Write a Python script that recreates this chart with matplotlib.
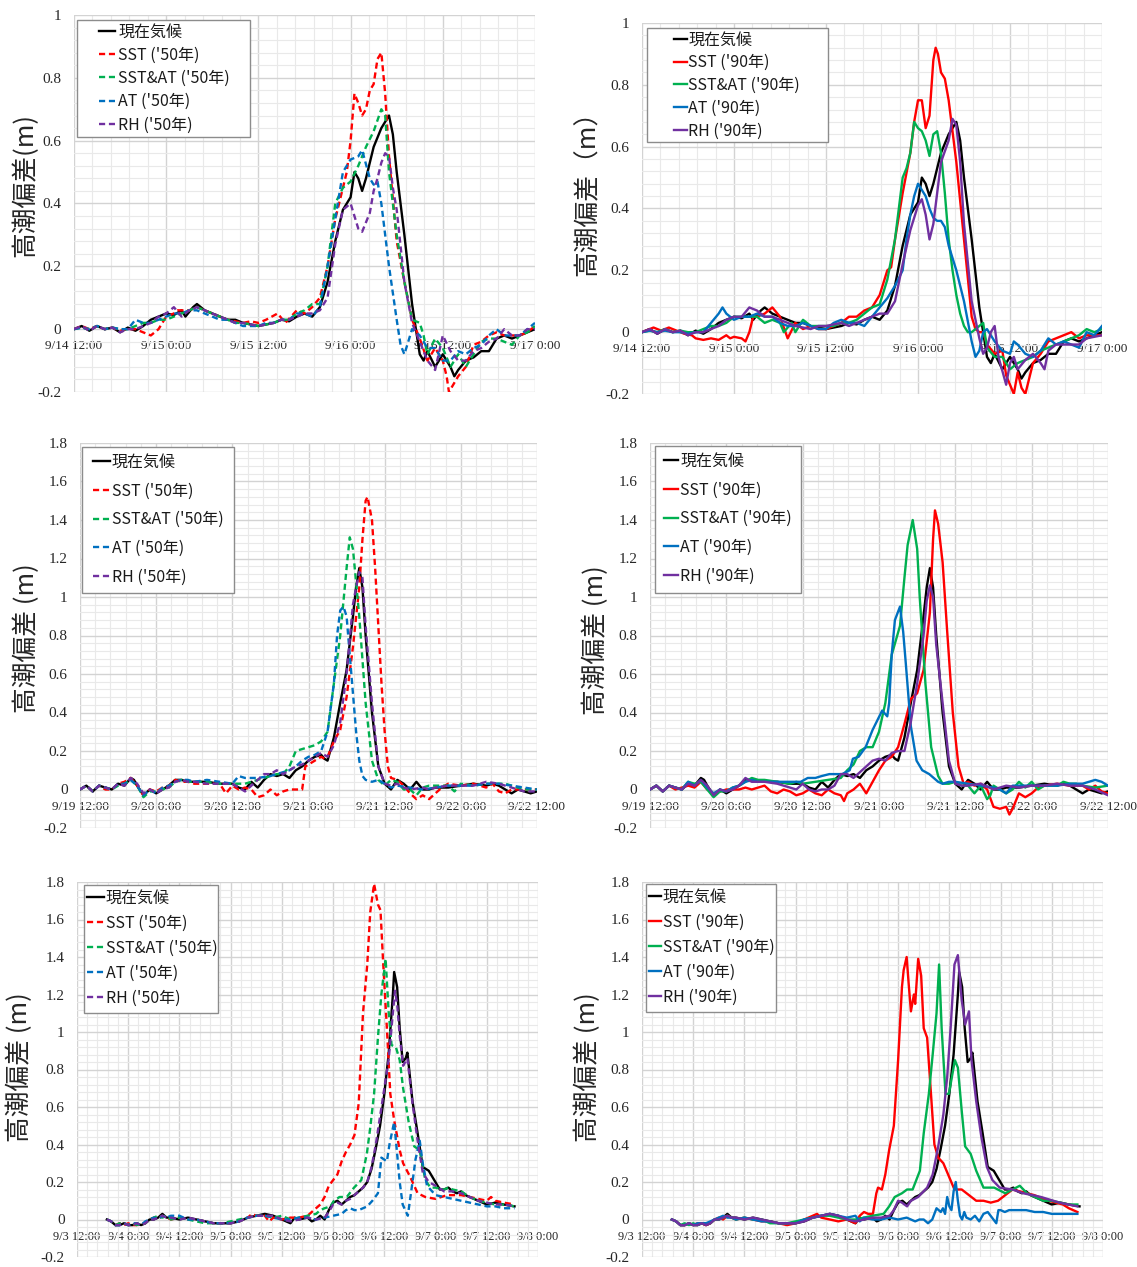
import matplotlib
matplotlib.use('Agg')
import matplotlib.pyplot as plt
from matplotlib.patches import Rectangle
from matplotlib.ticker import MultipleLocator, FixedLocator, FuncFormatter

# ---------------- DATA (hours since start of each panel's x-axis, surge in m) ----------------
# Storm A : x-axis 9/14 12:00 -> 9/17 0:00
A_TICKS = ['9/14 12:00', '9/15 0:00', '9/15 12:00', '9/16 0:00', '9/16 12:00', '9/17 0:00']
A_NOW = [(0,0.0),(1,0.01),(2,-0.005),(3,0.01),(4,0.0),(5,0.005),(6,-0.01),(7,0.005),(8,-0.005),(9,0.01),
         (10,0.03),(11,0.04),(12,0.05),(13,0.045),(14,0.06),(14.5,0.04),(15.5,0.07),(16,0.08),(17,0.06),(18,0.05),
         (19,0.04),(20,0.03),(21,0.03),(22,0.02),(23,0.015),(24,0.01),(25,0.015),(26,0.02),(27,0.03),(28,0.025),
         (29,0.04),(30,0.05),(31,0.04),(32,0.07),(33,0.15),(34,0.28),(35,0.38),(36,0.42),(36.5,0.5),(37,0.48),
         (37.5,0.44),(38,0.48),(39,0.58),(40,0.64),(40.5,0.66),(41,0.68),(41.5,0.62),(42,0.5),(43,0.3),(44,0.08),
         (44.5,0.0),(45,-0.08),(45.5,-0.1),(46,-0.07),(47,-0.12),(48,-0.08),(49,-0.12),(49.5,-0.15),(50,-0.13),
         (51,-0.1),(52,-0.09),(53,-0.07),(54,-0.07),(55,-0.03),(56,-0.02),(57,-0.03),(58,-0.02),(59,-0.01),(60,0.0)]
A50_SST = [(0,0.0),(1,0.01),(2,0.0),(3,0.01),(4,0.0),(5,0.005),(6,-0.005),(7,0.0),(8,0.0),(9,-0.01),(10,-0.02),
           (11,0.0),(12,0.04),(13,0.05),(13.5,0.06),(14.5,0.06),(15,0.06),(16,0.07),(17,0.06),(18,0.05),(19,0.04),
           (20,0.03),(21,0.025),(22,0.02),(23,0.025),(24,0.02),(25,0.03),(26.5,0.05),(27.5,0.02),(29,0.06),(30,0.05),
           (31,0.07),(32,0.1),(33,0.2),(34,0.35),(35,0.45),(35.5,0.5),(36,0.6),(36.5,0.75),(37,0.72),(37.5,0.68),
           (38,0.7),(38.5,0.76),(39,0.78),(39.5,0.86),(40,0.88),(40.5,0.75),(41,0.55),(42,0.28),(43,0.15),(44,0.03),
           (45,-0.03),(46,-0.1),(47,-0.06),(48,-0.1),(48.5,-0.15),(48.8,-0.2),(50,-0.15),(51,-0.12),(52,-0.05),
           (53,-0.04),(54,-0.02),(55,-0.01),(56,-0.02),(57,-0.02),(58,-0.02),(59,-0.01),(60,0.01)]
A50_SSTAT = [(0,0.0),(1,0.005),(2,0.0),(3,0.01),(4,0.0),(5,0.005),(6,0.0),(7,0.0),(8,0.01),(9,0.02),(10,0.02),
             (11,0.03),(12,0.03),(13,0.04),(14,0.05),(15,0.06),(16,0.07),(17,0.06),(18,0.05),(19,0.04),(20,0.03),
             (21,0.02),(22,0.02),(23,0.015),(24,0.01),(25,0.015),(26,0.02),(27,0.03),(28,0.03),(29,0.05),(30,0.06),
             (31,0.08),(32,0.08),(33,0.2),(34,0.4),(35,0.45),(36,0.47),(37,0.52),(38,0.58),(39,0.63),(40,0.7),
             (40.5,0.68),(41,0.5),(42,0.3),(43,0.15),(44,0.03),(45,0.02),(45.5,-0.02),(46,-0.08),(47,-0.03),(48,-0.06),
             (49,-0.12),(50,-0.08),(51,-0.12),(52,-0.08),(53,-0.04),(54,-0.03),(55,-0.03),(56,-0.04),(57,-0.05),
             (58,-0.02),(59,-0.01),(60,0.01)]
A50_AT = [(0,0.0),(1,0.005),(2,0.0),(3,0.01),(4,0.0),(5,0.005),(6,0.0),(7,0.0),(8,0.03),(9,0.02),(10,0.02),
          (11,0.03),(12,0.04),(13,0.05),(14,0.05),(15,0.06),(16,0.06),(17,0.05),(18,0.04),(19,0.03),(20,0.03),
          (21,0.02),(22,0.01),(23,0.01),(24,0.01),(25,0.02),(26,0.02),(27,0.03),(28,0.03),(29,0.05),(30,0.05),
          (31,0.04),(32,0.07),(33,0.2),(34,0.35),(35,0.5),(36,0.54),(37,0.55),(37.5,0.57),(38.5,0.48),(39,0.46),
          (39.5,0.47),(40,0.4),(41,0.2),(42,0.03),(42.5,-0.05),(43,-0.08),(43.5,-0.04),(44,0.0),(45,-0.02),
          (46,-0.06),(47,-0.06),(48,-0.1),(49,-0.1),(50,-0.07),(51,-0.08),(52,-0.06),(53,-0.05),(54,-0.02),
          (55,0.0),(56,-0.02),(57,-0.02),(58,-0.02),(59,0.0),(60,0.02)]
A50_RH = [(0,0.0),(1,0.01),(2,-0.005),(3,0.01),(4,0.0),(5,0.005),(6,-0.01),(7,0.0),(8,0.0),(9,0.01),(10,0.02),
          (11,0.04),(12,0.05),(13,0.07),(14,0.04),(15,0.06),(16,0.07),(17,0.06),(18,0.05),(19,0.04),(20,0.03),
          (21,0.02),(22,0.02),(23,0.015),(24,0.01),(25,0.015),(26,0.02),(27,0.03),(28,0.03),(29,0.04),(30,0.05),
          (31,0.05),(32,0.06),(33,0.1),(34,0.27),(35,0.38),(36,0.4),(36.5,0.36),(37,0.32),(37.5,0.31),(38,0.34),
          (38.5,0.37),(39,0.44),(39.5,0.48),(40,0.53),(40.5,0.56),(41,0.55),(41.5,0.45),(42,0.38),(43,0.15),
          (44,0.02),(45,-0.04),(46,-0.1),(47,-0.13),(48,-0.02),(49,-0.07),(50,-0.1),(51,-0.1),(52,-0.07),
          (53,-0.06),(54,-0.04),(55,-0.03),(56,0.0),(57,-0.02),(58,-0.02),(59,0.0),(60,0.0)]
A90_SST = [(0,0.0),(1,0.01),(1.5,0.015),(2.5,0.005),(3.5,0.015),(4.5,0.005),(5.5,-0.005),(6.5,-0.01),(7,-0.02),
           (8,-0.025),(9,-0.02),(10,-0.025),(11,-0.01),(11.5,-0.02),(12,-0.015),(13,-0.02),(13.5,-0.03),(14,0.0),
           (14.5,0.05),(15,0.05),(16,0.06),(17,0.08),(18,0.05),(19,-0.02),(20,0.03),(21,0.01),(22,0.02),(23,0.01),
           (24,0.01),(25,0.02),(26,0.03),(27,0.05),(28,0.05),(29,0.07),(30,0.08),(31,0.12),(32,0.2),(32.5,0.21),
           (33,0.3),(34,0.45),(35,0.58),(35.5,0.68),(36,0.75),(36.5,0.75),(37,0.66),(37.5,0.7),(38,0.88),
           (38.3,0.92),(38.6,0.9),(39,0.84),(39.5,0.82),(40,0.75),(41,0.55),(42,0.3),(43,0.05),(43.5,0.01),
           (44,0.0),(44.5,0.0),(45,-0.04),(46,-0.07),(47,-0.06),(47.5,-0.14),(48.5,-0.2),(49,-0.13),(49.5,-0.18),
           (50,-0.2),(51,-0.1),(52,-0.07),(53,-0.03),(54,-0.02),(55,-0.01),(56,0.0),(57,-0.02),(58,-0.01),
           (59,-0.01),(60,-0.01)]
A90_SSTAT = [(0,0.0),(1,0.005),(2,0.0),(3,0.01),(4,0.0),(5,0.005),(6,0.0),(7,0.0),(8,0.01),(9,0.02),(10,0.02),
             (11,0.03),(12,0.05),(13,0.05),(14,0.05),(15,0.05),(16,0.03),(17,0.04),(18,0.03),(18.5,0.0),(19.5,0.03),
             (20,0.0),(21,0.04),(22,0.02),(23,0.02),(24,0.02),(25,0.02),(26,0.03),(27,0.03),(28,0.04),(29,0.06),
             (30,0.08),(31,0.09),(32,0.17),(33,0.3),(34,0.5),(34.5,0.53),(35,0.58),(35.5,0.68),(36,0.66),(36.5,0.65),
             (37,0.62),(37.5,0.57),(38,0.64),(38.5,0.65),(39,0.58),(39.5,0.45),(40,0.3),(40.5,0.2),(41,0.12),
             (41.5,0.06),(42,0.02),(42.5,0.0),(43,0.0),(44,0.02),(44.5,0.03),(45,-0.05),(46,-0.08),(47,-0.08),
             (48,-0.12),(49,-0.1),(50,-0.09),(51,-0.08),(52,-0.06),(53,-0.05),(54,-0.04),(55,-0.03),(56,-0.02),
             (57,-0.01),(58,0.01),(59,0.0),(60,0.01)]
A90_AT = [(0,0.0),(1,0.005),(2,0.0),(3,0.005),(4,0.0),(5,0.0),(6,-0.005),(7,0.0),(8,0.0),(9,0.03),(10,0.06),
          (10.5,0.08),(11,0.06),(12,0.04),(13,0.05),(14,0.05),(15,0.06),(16,0.05),(17,0.05),(18,0.03),(19,0.02),
          (20,0.02),(21,0.03),(22,0.02),(23,0.01),(24,0.01),(25,0.03),(26,0.04),(27,0.03),(28,0.03),(29,0.02),
          (30,0.05),(31,0.08),(32,0.11),(33,0.15),(34,0.2),(34.5,0.3),(35,0.38),(35.5,0.44),(36,0.48),(36.5,0.46),
          (37,0.44),(37.5,0.4),(38,0.37),(38.5,0.36),(39,0.36),(39.5,0.34),(40,0.28),(41,0.2),(42,0.1),(43,-0.03),
          (43.5,-0.08),(44,-0.06),(44.5,0.0),(45,0.01),(46,-0.03),(47,-0.06),(48,-0.07),(48.5,-0.03),(49,-0.04),
          (50,-0.07),(51,-0.08),(52,-0.06),(53,-0.02),(54,-0.04),(55,-0.03),(56,-0.04),(57,-0.05),(58,0.0),
          (59,-0.01),(60,0.02)]
A90_RH = [(0,0.0),(1,0.01),(2,-0.005),(3,0.01),(4,0.0),(5,0.005),(6,-0.01),(7,0.0),(8,0.0),(9,0.01),(10,0.02),
          (11,0.04),(12,0.05),(13,0.05),(14,0.08),(15,0.07),(16,0.05),(17,0.05),(18,0.04),(20,0.02),(22,0.01),
          (23,0.02),(24,0.02),(26,0.03),(27,0.02),(28,0.03),(29,0.04),(30,0.05),(31,0.06),(32,0.06),(33,0.1),
          (34,0.22),(35,0.33),(36,0.41),(36.5,0.43),(37,0.38),(37.5,0.3),(38,0.35),(38.5,0.45),(39,0.55),(40,0.62),
          (40.5,0.69),(41,0.67),(41.5,0.55),(42,0.35),(43,0.1),(44,-0.02),(44.5,-0.07),(45,-0.05),(45.5,0.0),
          (46,0.02),(46.5,-0.08),(47.5,-0.17),(48,-0.1),(48.5,-0.08),(49,-0.12),(50,-0.09),(51,-0.07),(52,-0.1),
          (52.5,-0.12),(53,-0.06),(54,-0.04),(55,-0.04),(56,-0.04),(57,-0.04),(58,-0.02),(60,-0.01)]

# Storm B : x-axis 9/19 12:00 -> 9/22 12:00
B_TICKS = ['9/19 12:00', '9/20 0:00', '9/20 12:00', '9/21 0:00', '9/21 12:00', '9/22 0:00', '9/22 12:00']
B_NOW = [(0,0.0),(1,0.02),(2,-0.01),(3,0.02),(4,0.01),(5,0.0),(6,0.03),(7,0.02),(8,0.06),(8.5,0.05),(9,0.02),
         (10,-0.03),(11,0.0),(12,-0.02),(13,0.0),(14,0.02),(15,0.05),(16,0.05),(17,0.04),(18,0.04),(20,0.04),
         (22,0.03),(24,0.03),(25,0.01),(26,0.0),(27,0.04),(28,0.01),(29,0.05),(30,0.08),(31,0.07),(32,0.08),
         (33,0.06),(34,0.1),(35,0.12),(36,0.15),(37,0.17),(38,0.18),(38.5,0.16),(39,0.15),(40,0.27),(41,0.45),
         (42,0.62),(43,0.9),(43.5,1.05),(44,1.15),(44.5,1.05),(45,0.8),(46,0.4),(47,0.12),(48,0.03),(49,0.0),
         (50,0.05),(51,0.03),(52,0.0),(53,0.04),(54,0.0),(55,0.0),(56,0.01),(58,0.01),(60,0.02),(62,0.03),
         (64,0.02),(65,0.03),(66,0.02),(67,0.0),(68,-0.02),(69,0.0),(70,-0.01),(71,-0.02),(72,-0.01)]
B50_SST = [(0,0.0),(1,0.02),(2,-0.01),(3,0.02),(4,0.0),(5,0.0),(6,0.03),(7,0.04),(8,0.06),(9,0.02),(10,-0.03),
           (11,0.0),(12,-0.01),(13,0.01),(14,0.02),(15,0.05),(16,0.04),(17,0.04),(18,0.03),(20,0.03),(22,0.03),
           (23,-0.02),(24,0.02),(25,0.0),(26,0.01),(27,0.0),(28,-0.04),(29,-0.03),(30,0.0),(31,-0.03),(32,-0.01),
           (33,0.0),(34,0.0),(35,0.0),(35.5,0.12),(36,0.13),(37,0.15),(38,0.17),(38.5,0.16),(39,0.17),(40,0.25),
           (41,0.31),(42,0.48),(43,0.74),(44,1.05),(44.5,1.3),(45,1.5),(45.3,1.52),(46,1.4),(46.5,1.15),(47,0.85),
           (47.5,0.55),(48,0.3),(48.5,0.12),(49,0.06),(50,0.05),(51,0.02),(52,-0.02),(53,-0.05),(54,-0.03),
           (55,-0.05),(56,-0.02),(57,0.01),(58,0.03),(60,0.02),(62,0.03),(64,0.01),(65,0.03),(66,-0.01),
           (67,-0.02),(68,0.0),(70,0.0),(72,0.0)]
B50_SSTAT = [(0,0.0),(1,0.02),(2,-0.01),(3,0.02),(4,0.01),(5,0.0),(6,0.02),(7,0.03),(8,0.05),(9,0.02),(10,-0.04),
             (11,-0.01),(12,-0.01),(13,0.0),(14,0.01),(15,0.04),(16,0.05),(17,0.04),(18,0.04),(20,0.04),(22,0.03),
             (24,0.03),(26,0.03),(28,0.05),(30,0.07),(31,0.08),(32,0.08),(33,0.12),(34,0.2),(35,0.21),(36,0.22),
             (37,0.23),(38,0.25),(39,0.3),(40,0.55),(41,0.8),(42,1.15),(42.5,1.31),(43,1.25),(44,0.9),(45,0.45),
             (46,0.15),(47,0.05),(48,0.02),(49,0.05),(50,0.04),(51,0.0),(52,0.0),(53,-0.03),(54,0.01),(55,0.02),
             (56,0.02),(58,0.02),(59,-0.01),(60,0.03),(62,0.02),(64,0.03),(66,0.03),(67,0.03),(68,0.02),(70,0.0),
             (72,0.0)]
B50_AT = [(0,0.0),(1,0.02),(2,-0.01),(3,0.02),(4,0.01),(5,0.0),(6,0.03),(7,0.03),(8,0.05),(9,0.02),(10,-0.03),
          (11,0.0),(12,-0.02),(13,0.01),(14,0.02),(15,0.04),(16,0.05),(17,0.05),(18,0.04),(20,0.05),(22,0.04),
          (24,0.03),(25,0.07),(26,0.06),(28,0.06),(30,0.07),(31,0.08),(32,0.09),(33,0.1),(34,0.12),(35,0.15),
          (36,0.17),(37,0.18),(38,0.2),(39,0.3),(40,0.55),(40.5,0.8),(41,0.93),(41.5,0.95),(42,0.9),(42.5,0.7),
          (43,0.5),(43.5,0.3),(44,0.15),(44.5,0.07),(45,0.05),(46,0.04),(47,0.05),(48,0.03),(49,0.01),(50,0.02),
          (52,0.01),(54,0.0),(56,0.01),(58,0.02),(60,0.02),(62,0.02),(64,0.03),(66,0.03),(68,0.02),(70,0.01),(72,0.0)]
B50_RH = [(0,0.0),(1,0.02),(2,-0.01),(3,0.02),(4,0.01),(5,0.0),(6,0.03),(7,0.02),(8,0.06),(9,0.03),(10,-0.02),
          (11,0.0),(12,-0.02),(13,0.0),(14,0.01),(15,0.04),(16,0.05),(17,0.04),(18,0.04),(20,0.03),(22,0.03),
          (24,0.03),(26,-0.01),(28,0.05),(29,0.08),(30,0.08),(31,0.1),(32,0.08),(33,0.1),(34,0.12),(35,0.13),
          (36,0.15),(37,0.17),(38,0.19),(39,0.17),(40,0.23),(41,0.35),(42,0.6),(43,0.96),(43.5,1.05),(44,1.13),
          (44.5,1.1),(45,0.85),(46,0.45),(47,0.12),(48,0.03),(49,0.02),(50,0.03),(51,0.01),(52,0.0),(54,0.01),
          (55,0.0),(56,0.01),(58,0.02),(60,0.02),(62,0.02),(64,0.04),(66,0.03),(68,0.01),(70,-0.01),(72,-0.01)]
B90_SST = [(0,0.0),(1,0.02),(2,-0.01),(3,0.02),(4,0.0),(5,0.01),(6,0.02),(7,0.01),(8,0.04),(9,0.0),(10,-0.02),
           (11,-0.01),(12,0.0),(13,0.0),(14,0.0),(15,0.01),(16,0.0),(18,0.02),(19,-0.01),(20,-0.02),(21,0.0),
           (22,-0.01),(23,-0.03),(24,-0.02),(25,0.0),(26,-0.02),(27,-0.03),(28,0.0),(29,-0.02),(30,-0.03),
           (30.5,-0.06),(31,-0.02),(32,0.0),(33,0.03),(34,-0.02),(35,0.04),(36,0.1),(37,0.15),(38,0.17),(39,0.22),
           (40,0.34),(41,0.47),(42,0.5),(43,0.62),(44,0.92),(44.5,1.3),(44.8,1.45),(45.3,1.38),(46,1.18),
           (46.7,0.83),(47.6,0.4),(48.5,0.12),(49.3,0.03),(50,0.04),(51,0.02),(52,0.03),(53,0.0),(54,-0.09),
           (55,-0.1),(56,-0.09),(56.5,-0.13),(57,-0.1),(58,-0.02),(59,-0.04),(60,-0.02),(61,0.01),(62,0.02),
           (64,0.03),(66,0.02),(68,0.02),(69,0.0),(70,0.02),(71,-0.01),(72,-0.02)]
B90_SSTAT = [(0,0.0),(1,0.02),(2,-0.01),(3,0.02),(4,0.01),(5,0.0),(6,0.04),(7,0.03),(8,0.04),(9,0.0),(10,-0.04),
             (11,-0.01),(12,-0.01),(13,0.01),(14,0.02),(15,0.04),(16,0.06),(17,0.05),(18,0.05),(20,0.04),(22,0.03),
             (23,0.04),(24,0.03),(26,0.04),(28,0.05),(30,0.06),(31,0.1),(32,0.13),(33,0.2),(34,0.22),(35,0.22),
             (36,0.3),(37,0.45),(38,0.7),(39.3,0.85),(40,1.1),(40.5,1.27),(41,1.35),(41.3,1.4),(42,1.25),(42.4,1.0),
             (43.3,0.55),(44.2,0.22),(45.3,0.07),(46,0.03),(47,0.03),(48,0.04),(49,0.02),(50,0.02),(51,-0.02),
             (52,0.02),(53,-0.05),(53.5,-0.03),(54,0.02),(55,0.0),(56,-0.02),(57,0.0),(58,0.04),(59,0.01),
             (60,0.04),(61,0.0),(62,0.02),(64,0.02),(65,0.04),(66,0.03),(67,0.03),(68,0.02),(70,0.01),(72,0.02)]
B90_AT = [(0,0.0),(1,0.02),(2,-0.01),(3,0.02),(4,0.01),(5,0.0),(6,0.04),(7,0.02),(8,0.05),(9,0.01),(10,-0.02),
          (11,0.0),(12,-0.01),(13,0.01),(14,0.02),(15,0.04),(16,0.05),(17,0.04),(18,0.04),(20,0.04),(22,0.04),
          (23.7,0.04),(24.8,0.06),(26,0.06),(27,0.07),(28.2,0.08),(30.2,0.08),(31.4,0.1),(31.9,0.16),(32.8,0.17),
          (33.9,0.22),(35,0.31),(36.5,0.41),(37.3,0.38),(37.6,0.45),(38,0.7),(38.5,0.88),(39.3,0.95),(39.8,0.82),
          (40.2,0.66),(41,0.33),(41.9,0.15),(42.8,0.1),(43.9,0.08),(45.3,0.04),(46,0.03),(47,0.04),(48,0.04),
          (50,0.03),(52,0.02),(54,0.01),(55,0.0),(56,-0.02),(57,0.02),(58,0.02),(60,0.02),(62,0.02),(64,0.02),
          (66,0.03),(68,0.03),(69,0.04),(70,0.05),(71,0.04),(72,0.02)]
B90_RH = [(0,0.0),(1,0.02),(2,-0.01),(3,0.02),(4,0.01),(5,0.0),(6,0.03),(7,0.02),(8,0.05),(9,0.02),(10,-0.03),
          (11,0.0),(12,-0.01),(13,0.0),(14,0.02),(15,0.06),(16,0.04),(17,0.04),(18,0.04),(20,0.03),(22,0.01),
          (23,0.0),(24,0.03),(25,0.0),(26,-0.01),(27,0.0),(28,0.0),(29,0.02),(30,0.08),(31,0.08),(32,0.06),
          (33,0.09),(34,0.12),(35,0.15),(36,0.16),(37,0.15),(38,0.19),(39,0.2),(40,0.2),(41,0.35),(42,0.55),
          (43,0.8),(43.5,0.98),(44,1.06),(44.5,1.0),(45,0.75),(46,0.45),(47,0.15),(48,0.03),(49,0.02),(50,0.02),
          (52,0.03),(54,0.0),(56,0.02),(58,0.01),(60,0.02),(62,0.02),(64,0.03),(66,0.02),(68,0.02),(70,0.0),
          (72,-0.03)]

# Storm C : x-axis 9/3 12:00 -> 9/8 0:00
C_TICKS = ['9/3 12:00', '9/4 0:00', '9/4 12:00', '9/5 0:00', '9/5 12:00', '9/6 0:00', '9/6 12:00',
           '9/7 0:00', '9/7 12:00', '9/8 0:00']
C_NOW = [(7,0.0),(8,-0.01),(9,-0.03),(10,-0.03),(11,-0.02),(12,-0.03),(13,-0.03),(14,-0.02),(15,-0.03),
         (16,-0.02),(17,0.0),(18,0.0),(19,0.01),(20,0.03),(21,0.01),(22,0.01),(24,0.0),(26,0.01),(28,0.0),
         (30,-0.01),(32,-0.02),(34,-0.02),(36,-0.02),(38,-0.01),(40,0.01),(42,0.02),(44,0.03),(46,0.02),(48,0.0),
         (50,-0.02),(51,0.01),(52,0.0),(54,0.01),(55,-0.01),(56,0.0),(57,0.02),(58,0.0),(59,0.05),(60,0.09),
         (61,0.1),(62,0.08),(63,0.1),(64,0.12),(65,0.13),(66,0.15),(67,0.17),(68,0.2),(69,0.27),(70,0.38),
         (71,0.5),(72,0.67),(73,0.88),(74,1.2),(74.3,1.32),(75,1.24),(75.6,1.02),(76.3,0.84),(77,0.86),(77.4,0.89),
         (78.6,0.63),(79.8,0.46),(81,0.28),(82.4,0.26),(83.7,0.21),(85,0.16),(86,0.16),(87,0.17),(88,0.15),
         (89,0.14),(90,0.15),(91,0.13),(92,0.12),(94,0.1),(96,0.08),(98,0.09),(100,0.08),(102.5,0.07)]
C50_SST = [(7,0.0),(8,-0.01),(9,-0.03),(10,-0.02),(11,-0.03),(12,-0.02),(13,-0.03),(14,-0.03),(15,-0.02),
           (16,-0.02),(17,0.0),(18,0.01),(19,0.0),(20,0.02),(21,0.01),(22,0.0),(24,0.01),(26,0.0),(28,0.0),
           (30,-0.01),(32,-0.02),(34,-0.02),(36,-0.02),(38,-0.01),(40,0.01),(41,0.03),(42,0.02),(44,0.02),
           (45,-0.01),(46,0.01),(48,0.0),(50,0.01),(52,0.01),(54,0.02),(55,0.04),(56,0.06),(57,0.08),(58,0.12),
           (59,0.18),(60,0.21),(61,0.24),(62,0.31),(63,0.36),(64,0.4),(65,0.45),(66,0.62),(67,1.1),(68,1.36),
           (68.7,1.64),(69.6,1.79),(70.5,1.68),(71.1,1.65),(71.7,1.38),(72.6,1.02),(73.4,0.67),(74.3,0.53),
           (75.6,0.37),(76.4,0.3),(78,0.23),(79.8,0.14),(81.6,0.12),(84,0.11),(86.7,0.13),(90,0.13),(92,0.12),
           (94,0.11),(96,0.1),(97,0.12),(98,0.1),(100,0.09),(102.5,0.08)]
C50_SSTAT = [(7,0.0),(8,-0.01),(9,-0.03),(10,-0.02),(11,-0.02),(12,-0.03),(13,-0.02),(14,-0.03),(15,-0.02),
             (16,-0.02),(17,0.0),(18,0.01),(19,0.02),(20,0.01),(21,0.02),(22,0.0),(24,0.01),(26,0.0),(28,-0.01),
             (30,-0.02),(32,-0.02),(34,-0.02),(36,-0.01),(38,0.0),(40,0.01),(42,0.02),(44,0.02),(46,0.01),
             (48,0.02),(50,0.0),(52,0.01),(54,0.02),(56,0.03),(57,0.05),(58,0.06),(59.4,0.07),(60.2,0.1),
             (61.5,0.12),(63.2,0.12),(64.9,0.17),(66.6,0.21),(67.9,0.35),(68.7,0.49),(69.6,0.67),(70.5,0.97),
             (71.3,1.2),(72.3,1.39),(73,1.11),(73.7,0.93),(74.7,0.92),(75.6,0.85),(76.4,0.7),(77.7,0.52),(79,0.39),
             (80.3,0.37),(81.6,0.21),(82.8,0.17),(84,0.17),(86,0.16),(87,0.17),(88,0.16),(90,0.15),(92,0.12),
             (94,0.1),(96,0.09),(98,0.08),(100,0.08),(102.5,0.07)]
C50_AT = [(7,0.0),(8,-0.01),(9,-0.03),(10,-0.03),(11,-0.02),(12,-0.03),(13,-0.02),(14,-0.02),(15,-0.03),
          (16,-0.01),(17,0.0),(18,0.01),(19,0.0),(20,0.02),(21,0.01),(22,0.02),(24,0.02),(26,0.0),(28,0.0),
          (30,-0.01),(32,-0.02),(34,-0.02),(36,-0.02),(38,-0.01),(40,0.01),(42,0.02),(44,0.02),(46,0.01),
          (48,0.0),(50,0.0),(52,0.01),(54,0.01),(56,0.0),(58,0.01),(60,0.02),(62,0.03),(63,0.05),(64,0.06),
          (65,0.05),(66,0.05),(67,0.06),(68,0.07),(69.2,0.1),(70.5,0.14),(71.3,0.33),(72.6,0.31),(73.2,0.4),
          (74.3,0.52),(75,0.35),(75.6,0.2),(76.3,0.08),(77.5,0.02),(78.3,0.15),(79.3,0.32),(80.3,0.42),(81,0.3),
          (82,0.18),(84,0.13),(86,0.12),(88,0.11),(90,0.1),(92,0.09),(94,0.08),(96,0.07),(98,0.07),(100,0.06),
          (102.5,0.06)]
C50_RH = [(7,0.0),(8,-0.01),(9,-0.03),(10,-0.03),(11,-0.02),(12,-0.03),(13,-0.03),(14,-0.02),(15,-0.03),
          (16,-0.02),(17,0.0),(18,0.0),(19,0.01),(20,0.02),(21,0.01),(22,0.01),(24,0.0),(26,0.01),(28,0.0),
          (30,-0.01),(32,-0.02),(34,-0.02),(36,-0.02),(38,-0.01),(40,0.01),(42,0.02),(44,0.02),(46,0.02),
          (48,0.0),(50,-0.01),(52,0.0),(54,0.01),(56,0.0),(58,0.01),(59,0.04),(60,0.08),(61,0.09),(62,0.08),
          (63,0.1),(64,0.11),(65,0.13),(66,0.15),(67,0.17),(68,0.2),(69,0.28),(70,0.4),(71,0.55),(72,0.7),
          (73,0.85),(74,1.1),(74.5,1.22),(75,1.15),(75.6,0.98),(76.4,0.82),(77.4,0.86),(78.6,0.62),(79.8,0.42),
          (81,0.25),(82.4,0.2),(84,0.18),(86,0.15),(88,0.15),(90,0.14),(92,0.12),(94,0.1),(96,0.09),(98,0.08),
          (100,0.08),(102.5,0.07)]
C90_SST = [(7,0.0),(8,-0.01),(9,-0.03),(10,-0.03),(11,-0.02),(12,-0.03),(13,-0.02),(14,-0.02),(15,-0.03),
           (16,-0.02),(17,0.0),(18,0.01),(19,0.0),(20,0.02),(21,0.01),(22,0.0),(24,0.01),(26,0.0),(28,-0.01),
           (30,-0.01),(32,-0.02),(34,-0.03),(36,-0.02),(38,0.0),(40,0.02),(41,0.03),(42,0.01),(44,0.0),(46,-0.01),
           (48,0.0),(50,-0.02),(51,0.02),(52,0.04),(53,0.03),(54.1,0.03),(54.9,0.14),(55.3,0.17),(56.2,0.16),
           (57,0.24),(57.9,0.37),(59,0.5),(60,0.85),(60.9,1.24),(61.3,1.33),(62,1.4),(62.5,1.25),(63,1.11),
           (63.7,1.2),(64,1.15),(64.7,1.39),(65.4,1.3),(66,1.02),(66.8,0.97),(67.7,0.67),(68.5,0.4),(69.4,0.33),
           (70.6,0.3),(71.9,0.23),(73.2,0.16),(74.9,0.16),(76.6,0.13),(78.3,0.1),(80,0.1),(81.7,0.09),(83.4,0.1),
           (85.1,0.13),(86.8,0.16),(88.5,0.15),(91.9,0.13),(95.2,0.1),(98.6,0.08),(100,0.06),(102,0.04)]
C90_SSTAT = [(7,0.0),(8,-0.01),(9,-0.03),(10,-0.02),(11,-0.03),(12,-0.02),(13,-0.03),(14,-0.02),(15,-0.02),
             (16,-0.02),(17,0.0),(18,0.0),(19,0.01),(20,0.02),(21,0.01),(22,0.0),(24,0.01),(26,0.0),(28,0.0),
             (30,-0.02),(32,-0.02),(34,-0.02),(36,-0.01),(38,0.0),(40,0.01),(42,0.02),(44,0.02),(46,0.01),
             (48,0.0),(50,0.0),(52,0.01),(54,0.02),(56.6,0.03),(57.9,0.07),(59.2,0.12),(60.9,0.14),(62.1,0.16),
             (63.4,0.16),(65.1,0.26),(66,0.46),(67.2,0.67),(68.1,0.88),(69,1.1),(69.6,1.36),(70.2,1.02),
             (71.1,0.67),(71.9,0.67),(73.3,0.85),(74,0.81),(74.9,0.58),(75.7,0.39),(77,0.35),(78.3,0.26),(80,0.17),
             (82.5,0.17),(85.1,0.14),(86.8,0.16),(88.5,0.18),(90.2,0.14),(92,0.12),(94,0.1),(96,0.1),(98,0.09),
             (100,0.08),(102,0.08)]
C90_AT = [(7,0.0),(8,-0.01),(9,-0.03),(10,-0.03),(11,-0.02),(12,-0.03),(13,-0.02),(14,-0.02),(15,-0.02),
          (16,-0.01),(17,0.0),(18,0.01),(19,0.02),(20,0.01),(21,0.01),(22,0.0),(24,0.01),(26,0.0),(28,-0.01),
          (30,-0.01),(32,-0.02),(34,-0.02),(36,-0.02),(38,0.0),(40,0.01),(42,0.02),(44,0.03),(46,0.02),(48,0.01),
          (50,0.02),(51,-0.01),(52,0.01),(54,0.0),(56,0.0),(58,0.01),(60,0.0),(62,0.01),(63,0.0),(64,-0.01),
          (65,0.0),(66,0.0),(67,-0.02),(68,0.0),(69,0.06),(69.5,0.05),(70,0.04),(70.5,0.06),(71,0.03),(71.5,0.12),
          (72,0.07),(72.5,0.05),(73,0.15),(73.5,0.2),(74,0.1),(74.5,0.02),(75,0.0),(75.5,0.04),(76,0.01),(77,0.0),
          (78,0.02),(79,-0.01),(80,0.03),(81,0.04),(82,0.01),(83,-0.02),(83.5,0.05),(84,0.05),(85,0.04),(86,0.05),
          (88,0.05),(90,0.05),(92,0.04),(94,0.04),(96,0.03),(98,0.03),(100,0.03),(102,0.03)]
C90_RH = [(7,0.0),(8,-0.01),(9,-0.03),(10,-0.03),(11,-0.02),(12,-0.03),(13,-0.03),(14,-0.02),(15,-0.03),
          (16,-0.02),(17,0.0),(18,0.0),(19,0.01),(20,0.02),(21,0.01),(22,0.01),(24,0.0),(26,0.01),(28,0.0),
          (30,-0.01),(32,-0.02),(34,-0.02),(36,-0.02),(38,-0.01),(40,0.01),(42,0.02),(44,0.03),(46,0.02),
          (48,0.0),(50,-0.01),(52,0.0),(54,0.01),(56,0.01),(58,0.02),(59,0.05),(60,0.1),(60.9,0.09),(62.1,0.07),
          (63,0.1),(64.7,0.12),(66.8,0.17),(68.1,0.24),(69.4,0.39),(70.6,0.56),(71.5,0.76),(72.3,1.02),
          (73.2,1.36),(74,1.41),(74.9,1.17),(75.7,1.04),(76.6,1.11),(77.2,0.85),(78.3,0.63),(79.5,0.44),
          (80.8,0.28),(82.1,0.21),(83.8,0.17),(86.8,0.16),(89.3,0.14),(93.5,0.12),(97.8,0.09),(102,0.07)]

SERIES_NAMES = ['SST', 'SST&AT', 'AT', 'RH']
COLORS = ['#000000', '#FF0000', '#00B050', '#0070C0', '#7030A0']

# ---------------- FIGURE ----------------
plt.rcParams['font.family'] = ['Noto Sans CJK JP', 'DejaVu Sans']
W, H = 1137, 1267
fig = plt.figure(figsize=(W / 100, H / 100), dpi=100)
fig.patch.set_facecolor('white')

DASH = (0, (2.6, 1.6))

panels = [
    dict(box=(74, 15, 535, 392), xmax=60, ymax=1.0, ticks=A_TICKS, xfs=9.5,
         data=[A_NOW, A50_SST, A50_SSTAT, A50_AT, A50_RH], yr="'50", dashed=True,
         ylab='高潮偏差(m)', labx=38, laby=185,
         lframe=(77, 20, 250, 137), lanchor=(99, 23.5), ls=0.39, hl=1.0, htp=0.2),
    dict(box=(642, 23, 1102, 394), xmax=60, ymax=1.0, ticks=A_TICKS, xfs=9.5,
         data=[A_NOW, A90_SST, A90_SSTAT, A90_AT, A90_RH], yr="'90", dashed=False,
         ylab='高潮偏差（m）', labx=601, laby=187,
         lframe=(647, 28, 828, 142), lanchor=(674, 31.5), ls=0.36, hl=0.8, htp=0.1),
    dict(box=(80, 443, 537, 828), xmax=72, ymax=1.8, ticks=B_TICKS, xfs=9.5,
         data=[B_NOW, B50_SST, B50_SSTAT, B50_AT, B50_RH], yr="'50", dashed=True,
         ylab='高潮偏差 (m)', labx=40, laby=638,
         lframe=(82, 447, 234, 593), lanchor=(93, 454), ls=0.73, hl=1.05, htp=0.12),
    dict(box=(650, 443, 1108, 828), xmax=72, ymax=1.8, ticks=B_TICKS, xfs=9.5,
         data=[B_NOW, B90_SST, B90_SSTAT, B90_AT, B90_RH], yr="'90", dashed=False,
         ylab='高潮偏差 (m)', labx=609, laby=640,
         lframe=(655, 446, 801, 593), lanchor=(664, 453), ls=0.73, hl=0.9, htp=0.12),
    dict(box=(77, 882, 538, 1257), xmax=108, ymax=1.8, ticks=C_TICKS, xfs=8.9,
         data=[C_NOW, C50_SST, C50_SSTAT, C50_AT, C50_RH], yr="'50", dashed=True,
         ylab='高潮偏差 (m)', labx=33, laby=1067,
         lframe=(84, 885, 218, 1013), lanchor=(87, 890), ls=0.5, hl=1.05, htp=0.12),
    dict(box=(642, 882, 1103, 1257), xmax=108, ymax=1.8, ticks=C_TICKS, xfs=8.9,
         data=[C_NOW, C90_SST, C90_SSTAT, C90_AT, C90_RH], yr="'90", dashed=False,
         ylab='高潮偏差 (m)', labx=601, laby=1067,
         lframe=(646, 884, 776, 1012), lanchor=(649, 889), ls=0.5, hl=0.75, htp=0.1),
]

yfmt = FuncFormatter(lambda v, p: ('%g' % round(v, 2)))

for P in panels:
    l, t, r, b = P['box']
    ax = fig.add_axes([l / W, 1 - b / H, (r - l) / W, (b - t) / H])
    labels = ['現在気候'] + ["%s (%s年)" % (n, P['yr']) for n in SERIES_NAMES]
    for i, (series, col, lab) in enumerate(zip(P['data'], COLORS, labels)):
        tt = [p[0] for p in series]
        vv = [p[1] for p in series]
        ls = '-' if (i == 0 or not P['dashed']) else DASH
        ax.plot(tt, vv, color=col, lw=1.7, linestyle=ls, label=lab,
                solid_joinstyle='round', dash_capstyle='butt')
    ax.set_xlim(0, P['xmax'])
    ax.set_ylim(-0.2, P['ymax'])
    ax.xaxis.set_major_locator(FixedLocator([12 * k for k in range(len(P['ticks']))]))
    ax.set_xticklabels(P['ticks'])
    ax.xaxis.set_minor_locator(MultipleLocator(2.4))
    ax.yaxis.set_major_locator(MultipleLocator(0.2))
    ax.yaxis.set_minor_locator(MultipleLocator(0.04))
    ax.yaxis.set_major_formatter(yfmt)
    ax.grid(which='major', color='#d3d3d3', lw=1.0)
    ax.grid(which='minor', color='#e9e9e9', lw=0.8)
    ax.set_axisbelow(True)
    for s in ax.spines.values():
        s.set_color('none')
    ax.spines['bottom'].set_position(('data', 0))
    ax.tick_params(which='both', length=0)
    ax.tick_params(axis='x', which='major', pad=8, labelsize=P['xfs'], labelcolor='#262626',
                   labelfontfamily='Liberation Serif')
    ax.tick_params(axis='y', which='major', pad=9, labelsize=11, labelcolor='#262626',
                   labelfontfamily='Liberation Serif')
    ax.set_ylabel(P['ylab'], fontsize=18.5, color='#262626')
    ax.yaxis.set_label_coords((P['labx'] - l) / (r - l), (b - P['laby']) / (b - t))

    # legend frame (Excel style, wider on the left than the text block)
    fx0, fy0, fx1, fy1 = P['lframe']
    frame = Rectangle((fx0 / W, 1 - fy1 / H), (fx1 - fx0) / W, (fy1 - fy0) / H,
                      transform=fig.transFigure, facecolor='white', edgecolor='#8c8c8c',
                      lw=1.0, zorder=4.8, clip_on=False)
    ax.add_patch(frame)
    ax_, ay_ = P['lanchor']
    leg = ax.legend(loc='upper left', bbox_to_anchor=(ax_ / W, 1 - ay_ / H),
                    bbox_transform=fig.transFigure, borderaxespad=0, borderpad=0,
                    frameon=False, fontsize=11.5, handlelength=P['hl'],
                    handletextpad=P['htp'], labelspacing=P['ls'])
    leg.set_zorder(5)
    for txt in leg.get_texts():
        txt.set_color('#1a1a1a')

fig.savefig('out.png', dpi=100, facecolor='white')
